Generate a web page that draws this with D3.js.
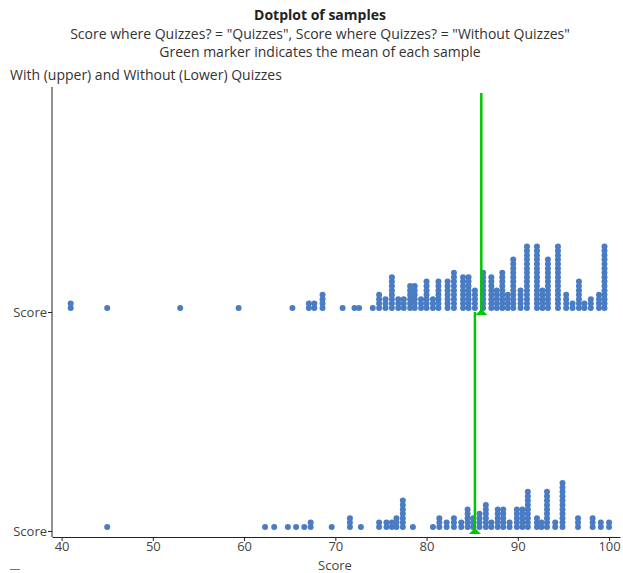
<!DOCTYPE html>
<html>
<head>
<meta charset="utf-8">
<script src="https://cdn.jsdelivr.net/npm/d3@7"></script>
<style>
  body { margin: 0; background: #fff; }
  svg { font-family: "Open Sans", sans-serif; }
</style>
</head>
<body>
<svg id="chart" width="623" height="573"></svg>
<script>
// Groups (upper = with quizzes, lower = without)
const groups = ["Quizzes", "Without Quizzes"]
// Score values and how many dots are stacked at each value
const withValues = [41, 45, 53, 59.4, 65.3, 67.1, 67.7, 68.6, 70.8, 72.1, 72.6, 74.1, 74.8, 75.5, 76.2, 76.9, 77.5, 78.2, 78.7, 79.4, 80.0, 80.7, 81.3, 82.3, 83.0, 84.0, 84.6, 85.3, 86.2, 87.1, 87.7, 88.3, 88.9, 89.5, 90.3, 91.0, 92.1, 92.7, 93.3, 94.4, 95.3, 96.0, 96.7, 97.3, 98.0, 98.9, 99.5]
const withCounts = [2, 1, 1, 1, 1, 2, 2, 4, 1, 1, 1, 1, 4, 3, 8, 3, 3, 6, 6, 3, 7, 3, 7, 7, 9, 8, 8, 5, 9, 8, 5, 9, 4, 12, 5, 15, 15, 5, 12, 15, 4, 2, 7, 2, 3, 4, 15]
const withoutValues = [45, 62.3, 63.3, 64.8, 65.7, 66.6, 67.3, 69.6, 71.6, 72.8, 74.8, 75.6, 76.2, 76.7, 77.4, 78.5, 80.7, 81.4, 82.2, 83.0, 83.8, 84.5, 85.1, 85.8, 86.5, 87.1, 87.8, 88.4, 89.1, 89.9, 90.5, 91.1, 92.1, 92.6, 93.2, 94.1, 94.9, 96.6, 98.2, 99.1, 100.0]
const withoutCounts = [1, 1, 1, 1, 1, 1, 2, 1, 3, 1, 2, 2, 2, 3, 7, 1, 1, 3, 2, 3, 2, 5, 3, 4, 6, 2, 5, 5, 2, 5, 5, 9, 3, 2, 9, 2, 11, 3, 3, 2, 2]
// Sample means (green markers)
const means = [86.0, 85.3]
const xTicks = [40, 50, 60, 70, 80, 90, 100]

const samples = [
  { group: groups[0], values: withValues, counts: withCounts, mean: means[0] },
  { group: groups[1], values: withoutValues, counts: withoutCounts, mean: means[1] },
]

const svg = d3.select("#chart")
const plotLeft = 52, plotRight = 620, plotTop = 93, plotBottom = 537
const textColor = "#444"

const x = d3.scaleLinear().domain([38.95, 101.2]).range([plotLeft, plotRight])
const y = d3.scaleBand().domain(groups).range([plotTop, plotBottom - 6]).paddingInner(0)
const baseline = (g) => y(g) + y.bandwidth()

// Titles
svg.append("text").attr("x", 320).attr("y", 20).attr("text-anchor", "middle")
  .style("font-size", "14px").style("font-weight", "bold").attr("fill", "#222")
  .text("Dotplot of samples")
svg.append("text").attr("x", 320).attr("y", 39).attr("text-anchor", "middle")
  .style("font-size", "14px").attr("fill", "#333")
  .text('Score where Quizzes? = "Quizzes", Score where Quizzes? = "Without Quizzes"')
svg.append("text").attr("x", 320).attr("y", 57).attr("text-anchor", "middle")
  .style("font-size", "14px").attr("fill", "#333")
  .text("Green marker indicates the mean of each sample")
svg.append("text").attr("x", 10).attr("y", 80)
  .style("font-size", "14px").attr("fill", "#333")
  .text("With (upper) and Without (Lower) Quizzes")

// Axes
const xAxis = svg.append("g").attr("transform", `translate(0,${plotBottom})`)
  .call(d3.axisBottom(x).tickValues(xTicks).tickSize(4).tickSizeOuter(0))
xAxis.select(".domain").attr("stroke", "#222")
xAxis.selectAll(".tick line").attr("stroke", "#222")
xAxis.selectAll(".tick text").attr("fill", textColor)
  .style("font-size", "13px").style("font-family", "Open Sans").attr("dy", "0.55em")

const yPoint = d3.scaleOrdinal().domain(groups).range(groups.map(baseline))
const yAxis = svg.append("g").attr("transform", `translate(${plotLeft},0)`)
  .call(d3.axisLeft(yPoint).tickSize(4).tickFormat(() => "Score"))
yAxis.select(".domain").attr("d", `M0,${plotTop - 6}V${plotBottom}`).attr("stroke", "#222")
yAxis.selectAll(".tick line").attr("stroke", "#222")
yAxis.selectAll(".tick text").attr("fill", textColor)
  .style("font-size", "13px").style("font-family", "Open Sans").attr("x", -5)

svg.append("text").attr("x", 335).attr("y", 570).attr("text-anchor", "middle")
  .style("font-size", "13px").attr("fill", textColor).text("Score")
svg.append("line").attr("x1", 10).attr("x2", 20).attr("y1", 569.5).attr("y2", 569.5)
  .attr("stroke", "#777").attr("stroke-width", 1)

// Dots, stacked upward from each sample baseline
const dots = []
samples.forEach((s) => {
  s.values.forEach((v, i) => {
    for (let k = 0; k < s.counts[i]; k++) dots.push({ group: s.group, value: v, k })
  })
})
svg.append("g").selectAll("circle").data(dots).join("circle")
  .attr("cx", (d) => x(d.value))
  .attr("cy", (d) => baseline(d.group) - 4 - d.k * 4.4)
  .attr("r", 3)
  .attr("fill", "#4a7cc4")

// Mean markers
const green = "#00c800"
const marker = svg.append("g")
samples.forEach((s) => {
  const mx = x(s.mean)
  marker.append("line")
    .attr("x1", mx).attr("x2", mx)
    .attr("y1", y(s.group)).attr("y2", baseline(s.group))
    .attr("stroke", green).attr("stroke-width", 2.5)
  marker.append("path")
    .attr("d", d3.line()([[mx, baseline(s.group) - 3], [mx - 6, baseline(s.group) + 3], [mx + 6, baseline(s.group) + 3]]) + "Z")
    .attr("fill", green)
})
</script>
</body>
</html>
